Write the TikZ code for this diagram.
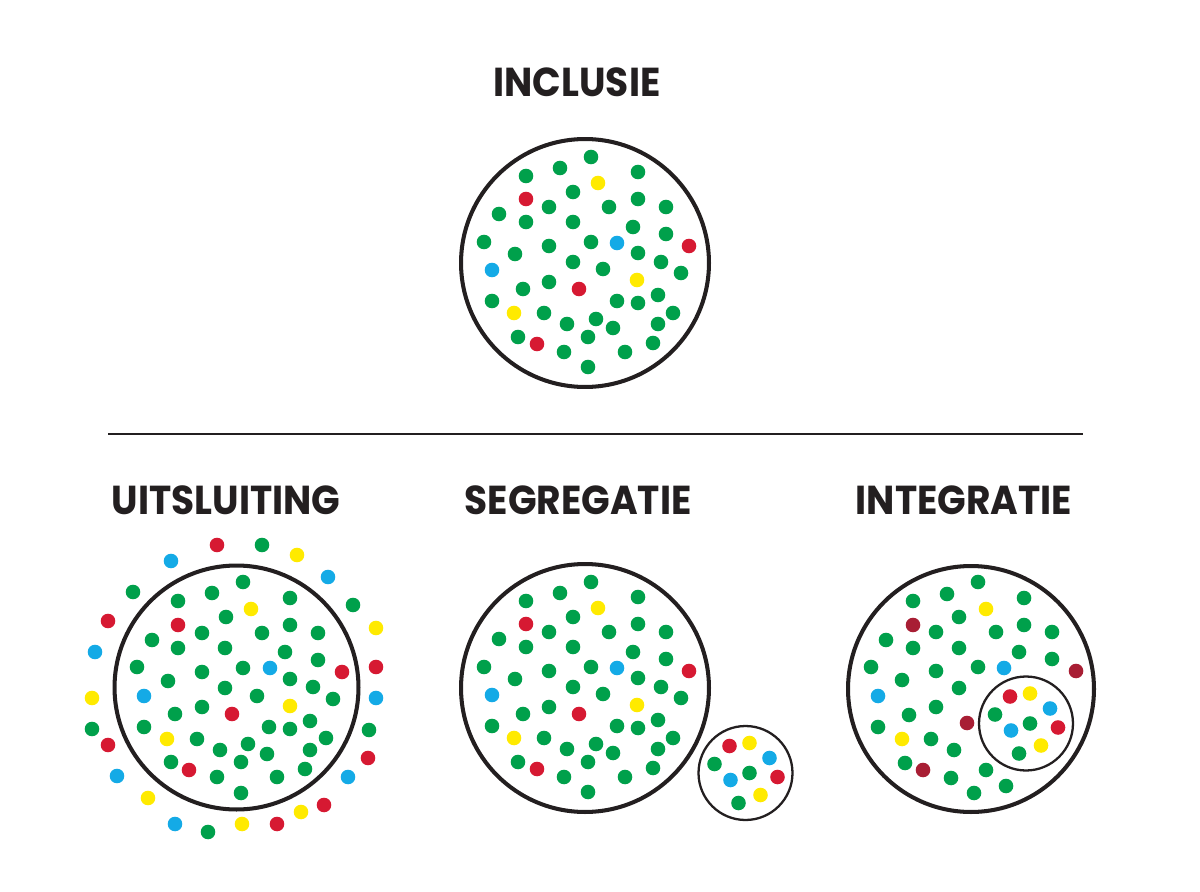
\documentclass[tikz,border=0pt]{standalone}
\usepackage{graphicx}
\usepackage{fontspec}
\newfontfamily\titlefont{Poppins}
\definecolor{ink}{RGB}{35,31,32}
\definecolor{dgreen}{RGB}{0,160,75}
\definecolor{dred}{RGB}{214,25,50}
\definecolor{dbordeaux}{RGB}{168,30,52}
\definecolor{dyellow}{RGB}{255,234,0}
\definecolor{dblue}{RGB}{20,170,230}
\newcommand\titletext[1]{\scalebox{0.93}[1]{#1}}
\tikzset{
  title/.style={anchor=base, text=ink, font=\titlefont\bfseries\fontsize{23}{23}\selectfont},
  ring/.style={draw=ink, line width=2.3pt, circle, inner sep=0pt, minimum size=4.96cm},
  smallring/.style={draw=ink, line width=1.3pt, circle, inner sep=0pt, minimum size=1.88cm}
}
% the crowd inside the inclusion circle (also used for segregatie)
\newcommand\crowd[1]{%
\foreach \x/\y in {591/157,560/168,526/176,638/172,573/192,549/207,609/207,638/199,666/207,
  499/214,526/222,573/222,633/227,666/234,484/242,549/246,591/242,515/254,638/253,573/262,
  603/269,661/262,681/273,549/282,523/289,492/301,617/301,638/303,658/295,544/313,673/313,
  596/319,567/324,613/328,658/324,588/337,518/337,653/343,564/352,625/352,588/367} {
 \fill[dgreen] (\x,\y) circle (4.15pt);
}
\foreach \x/\y in {598/183,637/280,514/313} \fill[dyellow] (\x,\y) circle (4.15pt);
\foreach \x/\y in {526/199,689/246,579/289,537/344} \fill[#1] (\x,\y) circle (4.15pt);
\foreach \x/\y in {617/243,492/270} \fill[dblue] (\x,\y) circle (4.15pt);
}
% the small group (segregatie and integratie)
\newcommand\group{%
\foreach \x/\y/\c in {-16/-27/dred,4/-30/dyellow,24/-15/dblue,-31/-9/dgreen,4/0/dgreen,
  -15/7/dblue,32/4/dred,15/22/dyellow,-7/30/dgreen} {
 \fill[\c] (\x,\y) circle (4.15pt);
}
}

\begin{document}
\begin{tikzpicture}[x=0.02cm, y=-0.02cm]
\useasboundingbox (0,0) rectangle (1200,892);

% inclusie
\node[title] (tinc) at (577,97) {\titletext{INCLUSIE}};
\node[ring] (inc) at (585,263) {};
\crowd{dred}

\draw[ink, line width=1pt] (108,434) coordinate (la) -- (1083,434) coordinate (lb);

% uitsluiting
\node[title] (tuit) at (226,514) {\titletext{UITSLUITING}};
\node[ring, minimum size=4.88cm] (uit) at (236.5,687.5) {};
\foreach \x/\y in {243/582,178/601,212/593,290/598,226/617,202/633,262/633,290/625,318/633,
  152/640,178/648,225/648,285/652,318/660,137/667,202/672,243/668,290/679,168/681,225/688,
  313/687,257/696,333/699,202/707,175/714,144/727,269/727,290/729,310/721,197/739,248/744,
  326/738,220/750,267/754,310/750,171/762,241/762,305/769,217/777,277/777,241/793,
  262/545,133/592,353/605,92/729,369/730,208/832} {
 \fill[dgreen] (\x,\y) circle (4.15pt);
}
\foreach \x/\y in {251/609,290/706,167/739,297/555,376/628,92/698,148/798,301/812,242/824}
 \fill[dyellow] (\x,\y) circle (4.15pt);
\foreach \x/\y in {178/625,342/672,232/714,189/770,217/545,108/621,376/667,108/745,368/758,
  324/805,277/824}
 \fill[dred] (\x,\y) circle (4.15pt);
\foreach \x/\y in {270/668,144/696,171/561,328/577,95/652,376/698,117/776,348/777,175/824}
 \fill[dblue] (\x,\y) circle (4.15pt);

% segregatie
\node[title] (tseg) at (578,514) {\titletext{SEGREGATIE}};
\node[ring] (seg) at (585,688) {};
\begin{scope}[shift={(0,425)}]
\crowd{dred}
\end{scope}
\node[smallring] (segs) at (745.5,773) {};
\begin{scope}[shift={(segs.center)}]
\group
\end{scope}

% integratie
\node[title] (tint) at (964,514) {\titletext{INTEGRATIE}};
\node[ring, minimum size=4.92cm] (int) at (971,689) {};
\foreach \x/\y in {978/582,947/594,913/601,1024/598,959/617,936/632,996/632,1024/625,1052/632,
  886/640,913/648,959/648,1019/652,1052/659,871/667,936/671,978/667,902/680,959/688,936/707,
  909/715,878/727,931/739,954/750,905/763,951/778,986/770,1006/786,974/793} {
 \fill[dgreen] (\x,\y) circle (4.15pt);
}
\foreach \x/\y in {986/609,902/739} \fill[dyellow] (\x,\y) circle (4.15pt);
\foreach \x/\y in {913/625,1076/671,967/723,923/770} \fill[dbordeaux] (\x,\y) circle (4.15pt);
\foreach \x/\y in {1004/668,878/696} \fill[dblue] (\x,\y) circle (4.15pt);
\node[smallring] (ints) at (1026,723.5) {};
\begin{scope}[shift={(ints.center)}]
\group
\end{scope}
\end{tikzpicture}
\end{document}
